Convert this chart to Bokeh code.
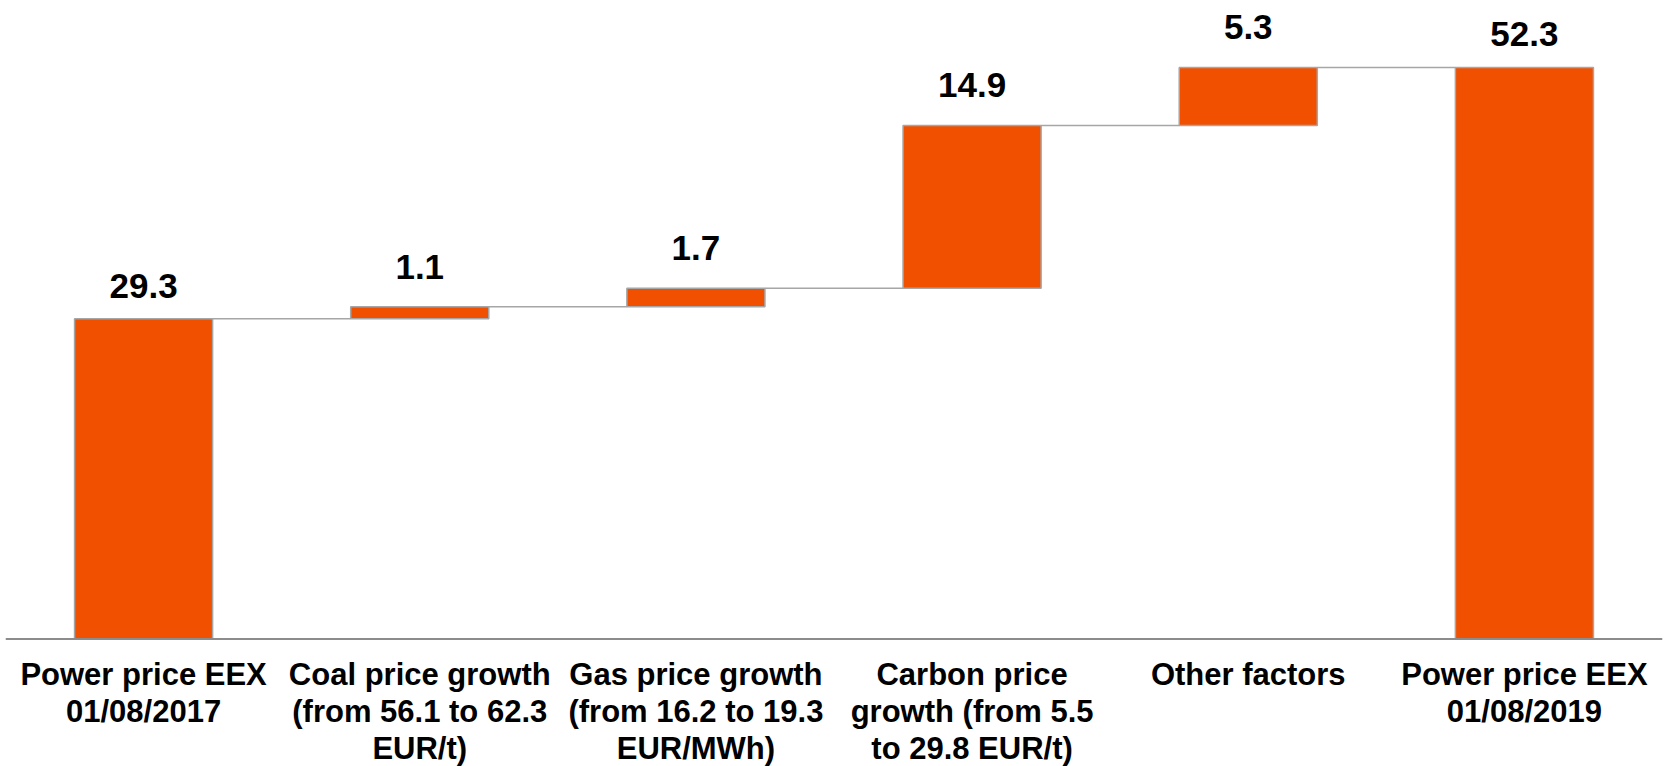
from bokeh.plotting import figure
from bokeh.models import ColumnDataSource, FactorRange, Range1d, Span
from bokeh.transform import dodge
from bokeh.core.properties import value
from bokeh.embed import file_html
from bokeh.resources import INLINE

# ---- data ----
categories = ["total_2017", "coal", "gas", "carbon", "other", "total_2019"]
category_labels = [
    "Power price EEX\n01/08/2017",
    "Coal price growth\n(from 56.1 to 62.3\nEUR/t)",
    "Gas price growth\n(from 16.2 to 19.3\nEUR/MWh)",
    "Carbon price\ngrowth (from 5.5\nto 29.8 EUR/t)",
    "Other factors",
    "Power price EEX\n01/08/2019",
]
values = [29.3, 1.1, 1.7, 14.9, 5.3, 52.3]
is_total = [True, False, False, False, False, True]
value_labels = ["29.3", "1.1", "1.7", "14.9", "5.3", "52.3"]

# ---- waterfall geometry from the values ----
bottoms, tops = [], []
running = 0.0
for v, t in zip(values, is_total):
    if t:
        bottoms.append(0.0)
        tops.append(v)
        running = v
    else:
        bottoms.append(running)
        running = running + v
        tops.append(running)

label_offsets = [-33 if t else -40 for t in is_total]

bars = ColumnDataSource(dict(cat=categories, bottom=bottoms, top=tops,
                             lab=value_labels, yoff=label_offsets,
                             catlab=category_labels,
                             zero=[0.0] * len(categories)))

conn = ColumnDataSource(dict(
    a=categories[:-1], b=categories[1:],
    level=[tops[i] for i in range(len(categories) - 1)]))

W, H = 1669, 766
p = figure(width=W, height=H, x_range=FactorRange(*categories),
           y_range=Range1d(-11.66, 58.43), output_backend="svg",
           toolbar_location=None, min_border_left=5, min_border_right=7,
           min_border_top=0, min_border_bottom=0)
p.xaxis.visible = False
p.yaxis.visible = False
p.grid.visible = False
p.outline_line_color = None
p.background_fill_color = "white"
p.border_fill_color = "white"

# connectors
p.segment(x0=dodge("a", 0.25, range=p.x_range), y0="level",
          x1=dodge("b", -0.25, range=p.x_range), y1="level",
          source=conn, line_color="#A6A6A6", line_width=1.5)

# bars
p.vbar(x="cat", bottom="bottom", top="top", width=0.5, source=bars,
       fill_color="#F05000", line_color="#A6A6A6", line_width=1.5)

# baseline
p.add_layout(Span(location=0, dimension="width", line_color="#8C8C8C", line_width=2))

# value labels
p.text(x="cat", y="top", text="lab", y_offset="yoff", source=bars,
       text_align="center", text_baseline="alphabetic",
       text_font=value("Liberation Sans"), text_font_style="bold",
       text_font_size="35px", text_color="black")

# category labels
p.text(x="cat", y="zero", text="catlab", y_offset=18, source=bars,
       text_align="center", text_baseline="top", text_line_height=1.06,
       text_font=value("Liberation Sans"), text_font_style="bold",
       text_font_size="31px", text_color="black")

open("out.html", "w").write(file_html(p, INLINE))
